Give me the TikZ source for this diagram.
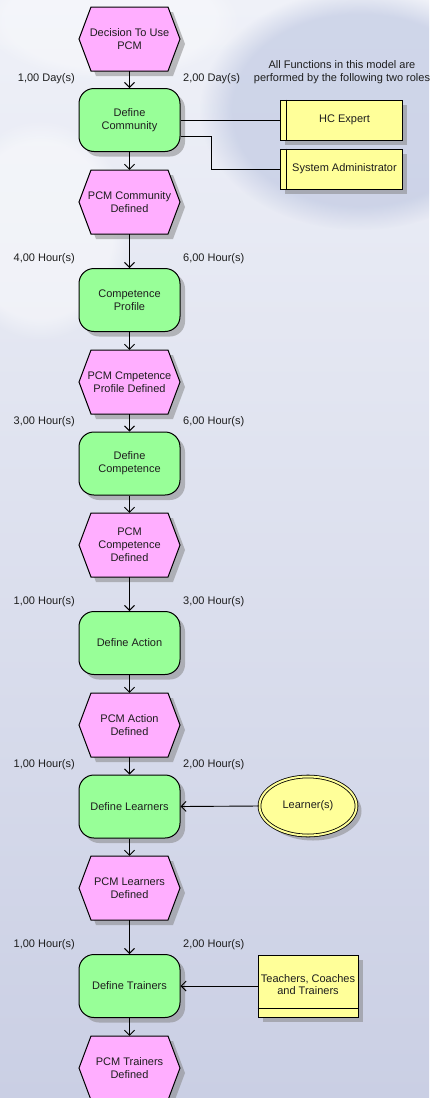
\documentclass[tikz,border=0pt]{standalone}
\usepackage{fontspec}
\setmainfont{Liberation Sans}
\usetikzlibrary{arrows.meta,shadows,fadings,shapes.geometric}

\definecolor{evtpink}{HTML}{FFAEFF}
\definecolor{funcgreen}{HTML}{98FF98}
\definecolor{roleyellow}{HTML}{FFFF99}
\definecolor{bgtop}{HTML}{EFF1F8}
\definecolor{bgbot}{HTML}{CACFE4}
\definecolor{swirl}{HTML}{B7C1DE}
\definecolor{inkc}{HTML}{1E1E1E}

\tikzset{
  txt/.style={font=\fontsize{11}{12.8}\selectfont, text=inkc, align=center, inner sep=0pt},
  dropsh/.style={drop shadow={shadow xshift=5pt, shadow yshift=-5pt, fill=black!50, opacity=.5}},
  funcbox/.style={txt, draw=black, line width=1pt, fill=funcgreen, rounded corners=15pt,
    minimum width=101pt, minimum height=63pt, dropsh},
  evtshape/.style={draw=black, line width=1pt, fill=evtpink, dropsh},
  evttext/.style={txt, minimum width=101pt, minimum height=64pt},
  rolebox/.style={txt, draw=black, line width=1pt, fill=roleyellow,
    minimum width=122pt, minimum height=40pt, dropsh},
  groupbox/.style={txt, draw=black, line width=1pt, fill=roleyellow,
    minimum width=100pt, minimum height=62pt, dropsh},
  personell/.style={txt, ellipse, draw=black, line width=.8pt, double=roleyellow,
    double distance=2pt, fill=roleyellow, minimum width=97pt, minimum height=59pt, dropsh},
  timelbl/.style={txt},
  flow/.style={draw=black, line width=.9pt, -{Straight Barb[length=5pt,width=10pt]}},
  link/.style={draw=black, line width=.9pt},
}

% event: hexagon outline, then its named text node on top
\newcommand\eventhex[4]{%
  \filldraw[evtshape] ({#2-50.5},{#3}) -- ({#2-38.5},{#3-32}) -- ({#2+38.5},{#3-32})
    -- ({#2+50.5},{#3}) -- ({#2+38.5},{#3+32}) -- ({#2-38.5},{#3+32}) -- cycle;
  \node[evttext] (#1) at (#2,#3) {#4};}

\begin{document}
\begin{tikzpicture}[x=1pt,y=-1pt]
  \useasboundingbox (0,0) rectangle (429,1098);
  \clip (0,0) rectangle (429,1098);

  % background
  \shade[top color=bgtop, bottom color=bgbot] (0,0) rectangle (429,1098);
  \fill[swirl, opacity=.55, path fading=circle with fuzzy edge 20 percent] (360,110) ellipse (160 and 120);
  \fill[white, opacity=.45, path fading=circle with fuzzy edge 20 percent] (40,230) ellipse (90 and 110);
  \fill[white, opacity=.35, path fading=circle with fuzzy edge 20 percent] (110,20) ellipse (130 and 60);

  % main process chain
  \eventhex{e1}{129.5}{39}{Decision To Use\\PCM}
  \node[funcbox] (f1) at (129.5,120) {Define\\Community};
  \eventhex{e2}{129.5}{202}{PCM Community\\Defined}
  \node[funcbox] (f2) at (129.5,300) {Competence\\Profile};
  \eventhex{e3}{129.5}{382}{PCM Cmpetence\\Profile Defined}
  \node[funcbox] (f3) at (129.5,463.5) {Define\\Competence};
  \eventhex{e4}{129.5}{545}{PCM\\Competence\\Defined}
  \node[funcbox] (f4) at (129.5,643) {Define Action};
  \eventhex{e5}{129.5}{725}{PCM Action\\Defined}
  \node[funcbox] (f5) at (129.5,806.5) {Define Learners};
  \eventhex{e6}{129.5}{888}{PCM Learners\\Defined}
  \node[funcbox] (f6) at (129.5,986) {Define Trainers};
  \eventhex{e7}{129.5}{1068}{PCM Trainers\\Defined}

  \draw[flow] (e1.south) -- (f1.north);
  \draw[flow] (f1.south) -- (e2.north);
  \draw[flow] (e2.south) -- (f2.north);
  \draw[flow] (f2.south) -- (e3.north);
  \draw[flow] (e3.south) -- (f3.north);
  \draw[flow] (f3.south) -- (e4.north);
  \draw[flow] (e4.south) -- (f4.north);
  \draw[flow] (f4.south) -- (e5.north);
  \draw[flow] (e5.south) -- (f5.north);
  \draw[flow] (f5.south) -- (e6.north);
  \draw[flow] (e6.south) -- (f6.north);
  \draw[flow] (f6.south) -- (e7.north);

  % durations
  \node[timelbl, anchor=east] (d1a) at (75,79) {1,00 Day(s)};
  \node[timelbl, anchor=west] (d1b) at (183,79) {2,00 Day(s)};
  \node[timelbl, anchor=east] (d2a) at (75,259) {4,00 Hour(s)};
  \node[timelbl, anchor=west] (d2b) at (183,259) {6,00 Hour(s)};
  \node[timelbl, anchor=east] (d3a) at (75,422) {3,00 Hour(s)};
  \node[timelbl, anchor=west] (d3b) at (183,422) {6,00 Hour(s)};
  \node[timelbl, anchor=east] (d4a) at (75,602) {1,00 Hour(s)};
  \node[timelbl, anchor=west] (d4b) at (183,602) {3,00 Hour(s)};
  \node[timelbl, anchor=east] (d5a) at (75,765) {1,00 Hour(s)};
  \node[timelbl, anchor=west] (d5b) at (183,765) {2,00 Hour(s)};
  \node[timelbl, anchor=east] (d6a) at (75,945) {1,00 Hour(s)};
  \node[timelbl, anchor=west] (d6b) at (183,945) {2,00 Hour(s)};

  % roles
  \node[txt] (note) at (342,72) {All Functions in this model are\\performed by the following two roles};
  \node[rolebox] (hc) at (341,120) {\hspace*{7pt}HC Expert};
  \draw[line width=1pt] ([xshift=7pt]hc.north west) -- ([xshift=7pt]hc.south west);
  \node[rolebox] (sa) at (341,169) {\hspace*{7pt}System Administrator};
  \draw[line width=1pt] ([xshift=7pt]sa.north west) -- ([xshift=7pt]sa.south west);
  \draw[link] (f1.east) -- (hc.west);
  \draw[link] ([yshift=-16pt]f1.east) -- ++(31,0) |- (sa.west);

  % participants
  \node[personell] (lr) at (308,806) {Learner(s)};
  \draw[flow] (lr.west) -- (f5.east);

  \node[groupbox] (tc) at (308,986) {\raisebox{5pt}{\begin{tabular}{@{}c@{}}Teachers, Coaches\\[-1.5pt]and Trainers\end{tabular}}};
  \draw[line width=1pt] ([yshift=9pt]tc.south west) -- ([yshift=9pt]tc.south east);
  \draw[flow] (tc.west) -- (f6.east);
\end{tikzpicture}
\end{document}
